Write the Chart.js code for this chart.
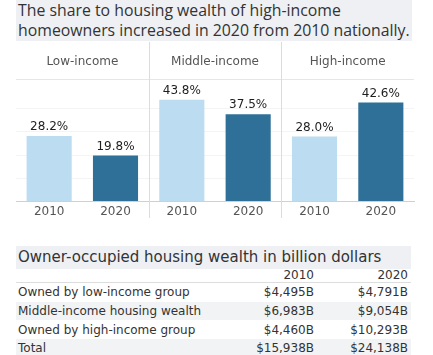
<!DOCTYPE html>
<html>
<head>
<meta charset="utf-8">
<script src="https://cdn.jsdelivr.net/npm/chart.js@4"></script>
<style>
  html, body { margin: 0; padding: 0; background: #fff; }
  body { width: 433px; height: 355px; position: relative; overflow: hidden; font-family: "DejaVu Sans", sans-serif; color: #333; }
  #title { position: absolute; left: 16px; top: 0; width: 396px; height: 41px; background: #eef0f3; padding: 1px 0 0 2px; box-sizing: border-box; color: #333; font-family: "Open Sans", sans-serif; }
  #title div { white-space: nowrap; line-height: 19.5px; }
  #chartWrap { position: absolute; left: 0; top: 0; width: 433px; height: 232px; }
  #tbl { position: absolute; left: 16px; top: 246px; width: 395px; border-collapse: collapse; table-layout: fixed; font-size: 12px; color: #333; }
  #tbl caption { background: #eef0f3; text-align: left; font-size: 15px; height: 23px; line-height: 23px; padding-left: 2px; color: #333; white-space: nowrap; }
  #tbl td, #tbl th { padding: 0; height: 18.7px; line-height: 18px; white-space: nowrap; }
  #tbl th { font-weight: normal; height: 12px; line-height: 13px; text-align: right; border-bottom: 1px solid #ddd; }
  #tbl .n { text-align: right; }
  #tbl .n3 { text-align: right; padding-right: 3px; }
  #tbl td.l { padding-left: 2px; }
  #tbl tr.s td { background: #f2f3f5; }
</style>
</head>
<body>
<div id="title"></div>
<div id="chartWrap"><canvas id="c"></canvas></div>
<table id="tbl"></table>
<script>
// ---- data ----
const titleLines = ['The share to housing wealth of high-income', 'homeowners increased in 2020 from 2010 nationally.'];
const groups = ['Low-income', 'Middle-income', 'High-income'];
const years = ['2010', '2020'];
const share2010 = [28.2, 43.8, 28.0];
const share2020 = [19.8, 37.5, 42.6];

const tableTitle = 'Owner-occupied housing wealth in billion dollars';
const rowLabels = ['Owned by low-income group', 'Middle-income housing wealth', 'Owned by high-income group', 'Total'];
const wealth2010 = ['$4,495B', '$6,983B', '$4,460B', '$15,938B'];
const wealth2020 = ['$4,791B', '$9,054B', '$10,293B', '$24,138B'];

// ---- title (font size fitted so the longest line spans ~392px) ----
(function () {
  const t = document.getElementById('title');
  const c = document.createElement('canvas').getContext('2d');
  const fam = '"Open Sans", sans-serif';
  c.font = '100px ' + fam;
  const w = Math.max(...titleLines.map(s => c.measureText(s).width));
  const size = Math.min(17, 392 / w * 100);
  t.style.fontSize = size.toFixed(2) + 'px';
  t.innerHTML = titleLines.map(s => '<div>' + s + '</div>').join('');
})();

// ---- build chart data ----
const labels = [];
const values = [];
const colors = [];
const lightBlue = '#bbdcf1';
const darkBlue = '#2f7098';
groups.forEach((g, i) => {
  labels.push(years[0]); values.push(share2010[i]); colors.push(lightBlue);
  labels.push(years[1]); values.push(share2020[i]); colors.push(darkBlue);
});

const FONT = '"DejaVu Sans", sans-serif';

const panelPlugin = {
  id: 'panels',
  beforeDatasetsDraw(chart) {
    const { ctx, chartArea, scales } = chart;
    const x = scales.x;
    ctx.save();
    ctx.strokeStyle = '#e6e6e6';
    ctx.lineWidth = 1;
    ctx.beginPath();
    ctx.moveTo(chartArea.left, chartArea.top + 0.5);
    ctx.lineTo(chartArea.right, chartArea.top + 0.5);
    ctx.stroke();
    ctx.strokeStyle = '#dcdcdc';
    for (let i = 1; i < groups.length; i++) {
      const px = Math.round((x.getPixelForValue(i * 2 - 1) + x.getPixelForValue(i * 2)) / 2) + 0.5;
      ctx.beginPath();
      ctx.moveTo(px, 42);
      ctx.lineTo(px, 218);
      ctx.stroke();
    }
    ctx.fillStyle = '#555';
    ctx.font = '12px ' + FONT;
    ctx.textAlign = 'center';
    ctx.textBaseline = 'middle';
    groups.forEach((g, i) => {
      const cx = (x.getPixelForValue(i * 2) + x.getPixelForValue(i * 2 + 1)) / 2;
      ctx.fillText(g, cx, 62);
    });
    ctx.restore();
  },
  afterDatasetsDraw(chart) {
    const { ctx } = chart;
    const meta = chart.getDatasetMeta(0);
    ctx.save();
    ctx.fillStyle = '#1e1e1e';
    ctx.font = '12px ' + FONT;
    ctx.textAlign = 'center';
    ctx.textBaseline = 'middle';
    meta.data.forEach((bar, i) => {
      ctx.fillText(values[i].toFixed(1) + '%', bar.x, bar.y - 9);
    });
    ctx.restore();
  }
};

new Chart(document.getElementById('c'), {
  type: 'bar',
  data: {
    labels: labels,
    datasets: [{
      data: values,
      backgroundColor: colors,
      borderWidth: 0,
      barPercentage: 0.68,
      categoryPercentage: 1.0
    }]
  },
  options: {
    responsive: true,
    maintainAspectRatio: false,
    animation: false,
    events: [],
    layout: { padding: { top: 79, left: 16, right: 19, bottom: 10 } },
    plugins: { legend: { display: false }, tooltip: { enabled: false } },
    scales: {
      x: {
        grid: { display: false, drawTicks: false },
        border: { display: true, color: '#d0d0d0' },
        ticks: { color: '#555', font: { family: FONT, size: 12 }, padding: 3, maxRotation: 0 }
      },
      y: {
        min: 0, max: 52.7,
        grid: { color: '#f4f4f4', drawTicks: false },
        border: { display: false },
        ticks: { display: false, stepSize: 10 }
      }
    }
  },
  plugins: [panelPlugin]
});

// ---- table ----
const tbl = document.getElementById('tbl');
let html = '<caption>' + tableTitle + '</caption>';
html += '<colgroup><col style="width:218px"><col style="width:80px"><col style="width:97px"></colgroup>';
html += '<tr><th></th><th class="n">' + years[0] + '</th><th class="n3">' + years[1] + '</th></tr>';
rowLabels.forEach((r, i) => {
  html += '<tr' + (i % 2 === 1 ? ' class="s"' : '') + '><td class="l">' + r + '</td><td class="n">' + wealth2010[i] + '</td><td class="n3">' + wealth2020[i] + '</td></tr>';
});
tbl.innerHTML = html;
</script>
</body>
</html>
